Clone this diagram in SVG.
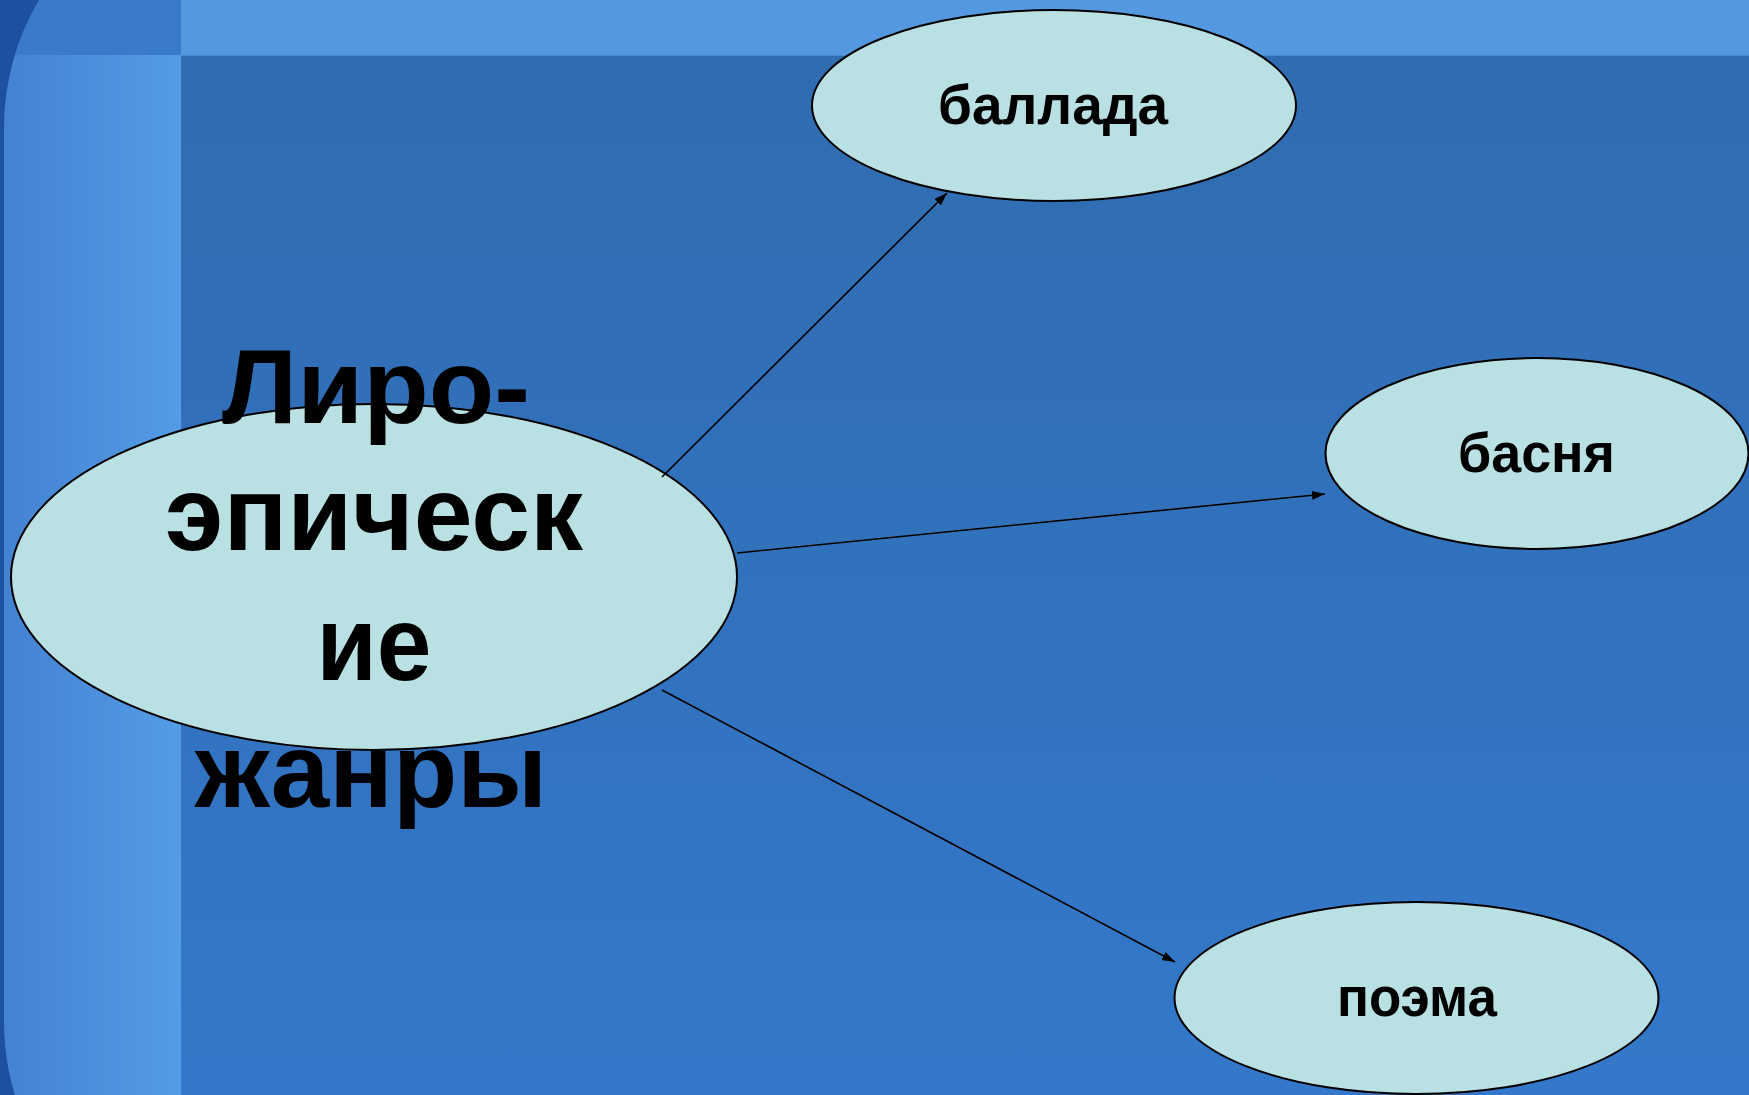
<svg xmlns="http://www.w3.org/2000/svg" width="1749" height="1095" viewBox="0 0 1749 1095">
  <style>
    .node { fill: #b9e0e3; stroke: #000; stroke-width: 2; }
    .lbl { font-family: "Liberation Sans", Arial, sans-serif; font-weight: bold; fill: #000; text-anchor: middle; }
    .small { font-size: 56px; }
    .big { font-size: 106px; }
    .conn { stroke: #000; stroke-width: 1.6; fill: none; marker-end: url(#arrow); }
  </style>
  <defs>
    <marker id="arrow" markerUnits="userSpaceOnUse" markerWidth="14" markerHeight="10" refX="13" refY="4.5" orient="auto">
      <path d="M0,0 L13,4.5 L0,9 z" fill="#000"/>
    </marker>
    <linearGradient id="mg" x1="0" y1="0" x2="0" y2="1">
      <stop offset="0" stop-color="#306cb0"/>
      <stop offset="1" stop-color="#3378ca"/>
    </linearGradient>
    <linearGradient id="lg" x1="0" y1="0" x2="1" y2="0">
      <stop offset="0" stop-color="#4382d2"/>
      <stop offset="1" stop-color="#549ce6"/>
    </linearGradient>
    <clipPath id="lc">
      <rect x="4" y="-122" width="700" height="1394" rx="250" ry="250"/>
    </clipPath>
  </defs>

  <g id="background">
    <rect x="0" y="0" width="1749" height="1095" fill="#1e50a1"/>
    <g clip-path="url(#lc)">
      <rect x="0" y="0" width="181" height="1095" fill="url(#lg)"/>
      <rect x="0" y="0" width="181" height="55" fill="#3a7acb"/>
    </g>
    <rect x="181" y="0" width="1568" height="55" fill="#5498e0"/>
    <rect x="181" y="55" width="1568" height="1040" fill="url(#mg)"/>
    <line x1="181" y1="55.5" x2="1749" y2="55.5" stroke="#478ad3" stroke-width="1"/>
  </g>

  <g id="node-center">
    <ellipse class="node" cx="374" cy="577" rx="363" ry="173"/>
    <text class="lbl big" x="376" y="423" textLength="308" lengthAdjust="spacingAndGlyphs">Лиро-</text>
    <text class="lbl big" x="374" y="550" textLength="418" lengthAdjust="spacingAndGlyphs">эпическ</text>
    <text class="lbl big" x="374" y="680" textLength="115" lengthAdjust="spacingAndGlyphs">ие</text>
    <text class="lbl big" x="371" y="807" textLength="352" lengthAdjust="spacingAndGlyphs">жанры</text>
  </g>

  <g id="node-ballada">
    <ellipse class="node" cx="1054" cy="105.5" rx="242" ry="95.5"/>
    <text class="lbl small" x="1053" y="124" textLength="230" lengthAdjust="spacingAndGlyphs">баллада</text>
  </g>

  <g id="node-basnya">
    <ellipse class="node" cx="1537" cy="453.5" rx="211.5" ry="95.5"/>
    <text class="lbl small" x="1536.5" y="472" textLength="157" lengthAdjust="spacingAndGlyphs">басня</text>
  </g>

  <g id="node-poema">
    <ellipse class="node" cx="1416.5" cy="998" rx="242" ry="96"/>
    <text class="lbl small" x="1417" y="1016" textLength="160" lengthAdjust="spacingAndGlyphs">поэма</text>
  </g>

  <g id="connectors">
    <line class="conn" x1="662" y1="477" x2="947" y2="193"/>
    <line class="conn" x1="737" y1="553" x2="1325" y2="494"/>
    <line class="conn" x1="662" y1="690" x2="1175" y2="962"/>
  </g>
</svg>
